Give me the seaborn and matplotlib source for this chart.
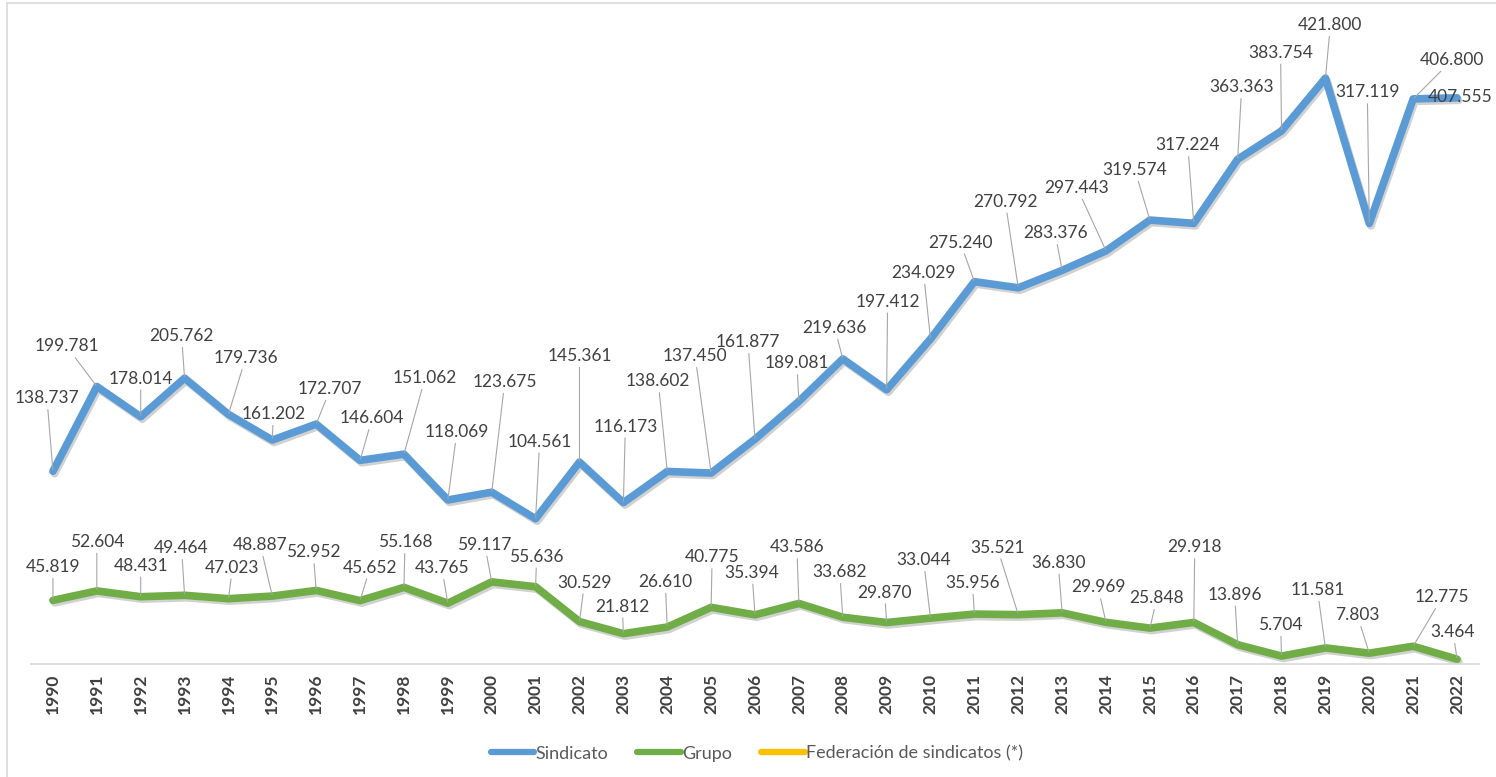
import pandas as pd
import numpy as np
import matplotlib
matplotlib.use("Agg")
import matplotlib.pyplot as plt
import matplotlib.patheffects as pe
from matplotlib.lines import Line2D
from matplotlib.patches import Rectangle
import seaborn as sns

# Datos
anios = [str(a) for a in range(1990, 2023)]
sindicato = [138.737, 199.781, 178.014, 205.762, 179.736, 161.202, 172.707, 146.604,
             151.062, 118.069, 123.675, 104.561, 145.361, 116.173, 138.602, 137.450,
             161.877, 189.081, 219.636, 197.412, 234.029, 275.240, 270.792, 283.376,
             297.443, 319.574, 317.224, 363.363, 383.754, 421.800, 317.119, 406.800,
             407.555]
grupo = [45.819, 52.604, 48.431, 49.464, 47.023, 48.887, 52.952, 45.652, 55.168,
         43.765, 59.117, 55.636, 30.529, 21.812, 26.610, 40.775, 35.394, 43.586,
         33.682, 29.870, 33.044, 35.956, 35.521, 36.830, 29.969, 25.848, 29.918,
         13.896, 5.704, 11.581, 7.803, 12.775, 3.464]
series = ["Sindicato", "Grupo", "Federación de sindicatos (*)"]
colores = ["#5b9bd5", "#70ad47", "#ffc000"]

# desplazamiento de las etiquetas (pixeles) respecto al punto
off_sind = [(-6, 73), (-30, 40), (0, 38), (-3, 42), (17, 56), (1, 26), (14, 35), (12, 42),
            (21, 76), (9, 68), (13, 110), (4, 77), (0, 106), (2, 76), (-9, 90), (-16, 117),
            (-7, 97), (-2, 38), (-8, 31), (1, 88), (-7, 66), (-14, 39), (-13, 86), (-7, 37),
            (-29, 63), (-15, 50), (-6, 78), (4, 72), (-1, 78), (5, 53), (-2, 131), (39, 39),
            (3, 1)]
off_grupo = [(0, 33), (0, 49), (0, 31), (-3, 47), (4, 31), (-12, 51), (-3, 38), (10, 33),
             (1, 45), (-6, 35), (-7, 37), (1, 30), (5, 39), (-1, 27), (-2, 45), (1, 50),
             (-3, 42), (-2, 56), (-3, 45), (-2, 30), (-7, 58), (-2, 31), (-21, 67), (-4, 50),
             (-8, 35), (7, 30), (1, 75), (-3, 50), (-1, 31), (-8, 58), (-12, 38), (29, 49),
             (-4, 27)]

df = pd.DataFrame({
    "pos": list(range(len(anios))) * 2,
    "valor": sindicato + grupo,
    "serie": ["Sindicato"] * len(sindicato) + ["Grupo"] * len(grupo),
})

sns.set_style("white")
plt.rcParams["font.family"] = ["Lato", "DejaVu Sans"]

fig = plt.figure(figsize=(14.96, 7.77), dpi=100)
ax = fig.add_axes([31 / 1496, 113 / 777, 1448 / 1496, 654 / 777])

sombra = [pe.SimpleLineShadow(offset=(1.2, -1.8), shadow_color="k", alpha=0.18), pe.Normal()]
sns.lineplot(data=df, x="pos", y="valor", hue="serie", hue_order=series[:2],
             palette=colores[:2], linewidth=5.5, sort=False, legend=False, ax=ax,
             path_effects=sombra)

ax.set_xlim(-0.5, len(anios) - 0.5)
ax.set_ylim(0, 470.8)

# etiquetas de datos con lineas guia
for vals, offs in [(sindicato, off_sind), (grupo, off_grupo)]:
    for i, (v, (dx, dy)) in enumerate(zip(vals, offs)):
        txt = f"{v:.3f}"
        larga = (dx * dx + dy * dy) ** 0.5 > 22
        ax.annotate(txt, xy=(i, v), xytext=(dx, dy), textcoords="offset pixels",
                    ha="center", va="center", fontsize=12.5, color="#404040",
                    annotation_clip=False,
                    arrowprops=dict(arrowstyle="-", color="#a6a6a6", lw=0.8,
                                    shrinkA=0, shrinkB=1) if larga else None)

# eje x
for s in ["left", "right", "top"]:
    ax.spines[s].set_visible(False)
ax.spines["bottom"].set_color("#d9d9d9")
ax.spines["bottom"].set_linewidth(1.2)
ax.set_yticks([])
ax.set_xticks(np.arange(len(anios)))
ax.set_xticklabels(anios, rotation=90, fontsize=12.5, fontweight="bold", color="#404040")
ax.tick_params(axis="x", length=0, pad=7)
ax.set_xticks(np.arange(len(anios) + 1) - 0.5, minor=True)
ax.tick_params(axis="x", which="minor", length=6, color="#d9d9d9", width=1.2)
ax.set_xlabel("")
ax.set_ylabel("")

# leyenda
handles = [Line2D([0], [0], color=c, lw=4.5) for c in colores]
fig.legend(handles, series, loc="center", bbox_to_anchor=(0.506, 0.03), ncol=3,
           frameon=False, fontsize=13, handlelength=2.4, handletextpad=0.1,
           columnspacing=1.6, labelcolor="#595959")

# marco del grafico
fig.patches.append(Rectangle((7 / 1496, -0.01), 1.0, (777 - 3) / 777 + 0.01,
                             transform=fig.transFigure, fill=False,
                             edgecolor="#d9d9d9", lw=1.2))

fig.savefig("out.png", dpi=100)
